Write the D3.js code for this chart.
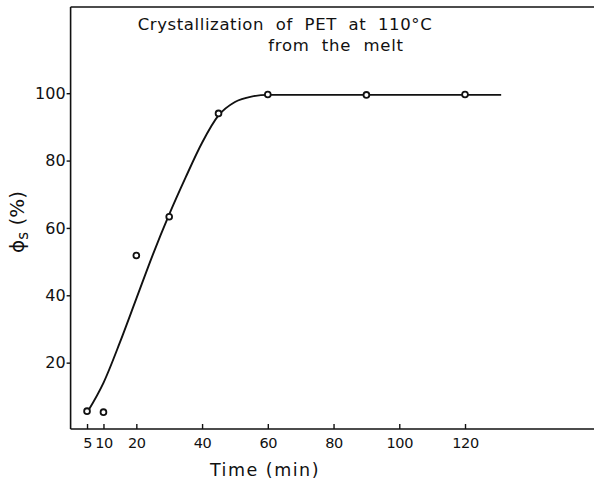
<!DOCTYPE html>
<html>
<head>
<meta charset="utf-8">
<script src="https://cdn.jsdelivr.net/npm/d3@7"></script>
<style>
  html, body { margin: 0; padding: 0; background: #fff; }
  svg { display: block; }
  text { font-family: "DejaVu Sans", sans-serif; fill: #111; }
</style>
</head>
<body>
<svg id="chart" width="594" height="486"></svg>
<script>
// Measured points
const timeMin = [5, 10, 20, 30, 45, 60, 90, 120];
const phiS = [5.6, 5.3, 51.8, 63.3, 94, 99.6, 99.5, 99.6];

// Hand-drawn smooth curve
const curveTime = [5.3, 10, 15, 20, 25, 30, 35, 40, 45, 50, 55, 60, 131];
const curveValue = [5.6, 14, 26, 39, 52, 64, 75, 85.3, 93.4, 97.4, 99.0, 99.5, 99.5];

// Ticks
const xTicks = [5, 10, 20, 40, 60, 80, 100, 120];
const yTicks = [20, 40, 60, 80, 100];

const titleLines = ["Crystallization  of  PET  at  110\u00B0C", "from  the  melt"];
const xLabel = "Time (min)";

const svg = d3.select("#chart");
svg.append("rect").attr("width", 594).attr("height", 486).attr("fill", "#fff");

const x = d3.scaleLinear().domain([0, 159]).range([70.6, 593.2]);
const y = d3.scaleLinear().domain([0, 125.6]).range([430, 7]);

const ink = "#111";

// Frame: top border
svg.append("line").attr("x1", x(0)).attr("x2", 594).attr("y1", 7).attr("y2", 7)
  .attr("stroke", ink).attr("stroke-width", 1.6);

// X axis (ticks pointing inward/up)
const xAxis = d3.axisBottom(x).tickValues(xTicks).tickSizeInner(-5).tickSizeOuter(0).tickPadding(9);
const gx = svg.append("g").attr("transform", "translate(0,429)").call(xAxis);
gx.select(".domain").attr("d", `M${x(0)},0H594`).attr("stroke", ink).attr("stroke-width", 1.6);
gx.selectAll(".tick line").attr("stroke", ink).attr("stroke-width", 1.4);
gx.selectAll(".tick text").attr("font-size", 14.5).attr("fill", ink)
  .attr("letter-spacing", -0.4)
  .attr("font-family", "DejaVu Sans, sans-serif").attr("dy", "0.71em");

// Y axis (ticks pointing outward/left)
const yAxis = d3.axisLeft(y).tickValues(yTicks).tickSizeInner(4).tickSizeOuter(0).tickPadding(1);
const gy = svg.append("g").attr("transform", `translate(${x(0)},0)`).call(yAxis);
gy.select(".domain").attr("d", "M0,7V429").attr("stroke", ink).attr("stroke-width", 1.6);
gy.selectAll(".tick line").attr("stroke", ink).attr("stroke-width", 1.4);
gy.selectAll(".tick text").attr("font-size", 16).attr("fill", ink)
  .attr("font-family", "DejaVu Sans, sans-serif");

// Fitted curve
const curveData = curveTime.map((t, i) => ({ t, v: curveValue[i] }));
svg.append("path").datum(curveData)
  .attr("d", d3.line().x(d => x(d.t)).y(d => y(d.v)).curve(d3.curveMonotoneX))
  .attr("fill", "none").attr("stroke", ink).attr("stroke-width", 1.9);

// Points
const pts = timeMin.map((t, i) => ({ t, v: phiS[i] }));
svg.selectAll("circle.pt").data(pts).enter().append("circle")
  .attr("class", "pt")
  .attr("cx", d => x(d.t)).attr("cy", d => y(d.v)).attr("r", 2.9)
  .attr("fill", "#fff").attr("stroke", ink).attr("stroke-width", 1.8);

// Title
svg.append("text").attr("x", 285).attr("y", 30).attr("text-anchor", "middle")
  .attr("font-size", 16.5).attr("letter-spacing", 0.6)
  .style("white-space", "pre").text(titleLines[0]);
svg.append("text").attr("x", 336).attr("y", 51).attr("text-anchor", "middle")
  .attr("font-size", 16.5).attr("letter-spacing", 0.8)
  .style("white-space", "pre").text(titleLines[1]);

// X label
svg.append("text").attr("x", 265).attr("y", 476).attr("text-anchor", "middle")
  .attr("font-size", 17.5).attr("letter-spacing", 1.5).text(xLabel);

// Y label: phi_s (%)
const yl = svg.append("text").attr("transform", "translate(24,222) rotate(-90)")
  .attr("text-anchor", "middle").attr("font-size", 20);
yl.append("tspan").text("\u03D5");
yl.append("tspan").attr("font-size", 15).attr("dy", 4).text("s");
yl.append("tspan").attr("dy", -4).text(" (%)");
</script>
</body>
</html>
